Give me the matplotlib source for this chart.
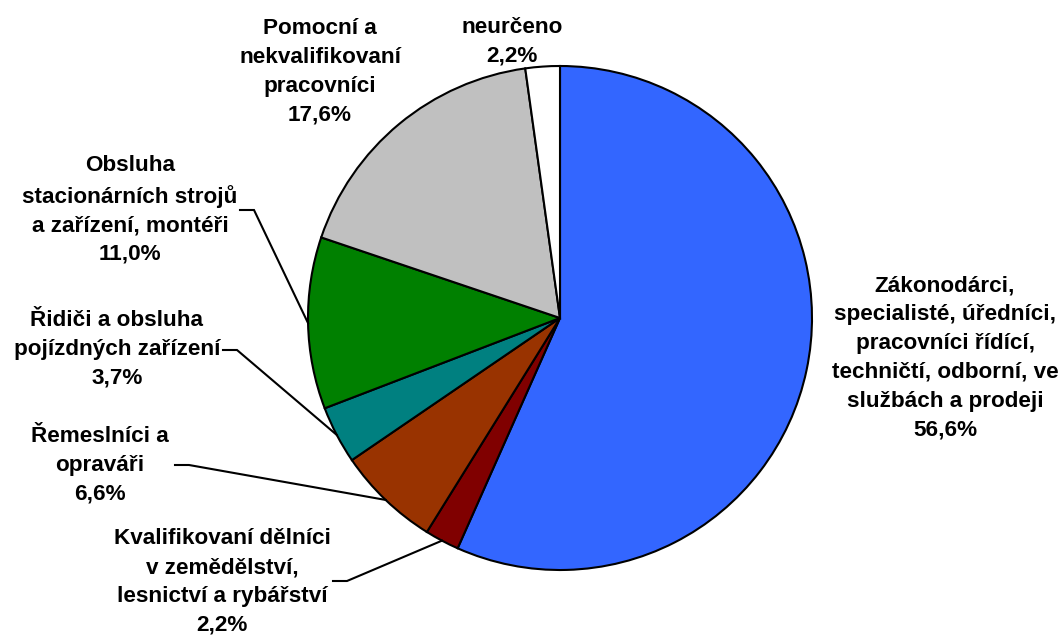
import numpy as np
import matplotlib
matplotlib.use("Agg")
import matplotlib.pyplot as plt

labels = [
    "Zákonodárci,\nspecialisté, úředníci,\npracovníci řídící,\ntechničtí, odborní, ve\nslužbách a prodeji",
    "Kvalifikovaní dělníci\nv zemědělství,\nlesnictví a rybářství",
    "Řemeslníci a\nopraváři",
    "Řidiči a obsluha\npojízdných zařízení",
    "Obsluha\nstacionárních strojů\na zařízení, montéři",
    "Pomocní a\nnekvalifikovaní\npracovníci",
    "neurčeno",
]
shares = [56.6, 2.2, 6.6, 3.7, 11.0, 17.6, 2.2]
colors = ["#3366FF", "#800000", "#993300", "#008080", "#008000", "#C0C0C0", "#FFFFFF"]

# label block centres (pixels, y from top) and leader start points
label_pos = [(945, 358), (222, 582), (100, 465), (117, 349), (130, 210), (320, 72), (512, 42)]
leader_start = [None, (333, 581), (175, 465), (223, 350), (240, 210), None, None]

W, H = 1064, 635
plt.rcParams['font.family'] = ['Liberation Sans', 'DejaVu Sans']

fig = plt.figure(figsize=(W / 100, H / 100), dpi=100)
ax = fig.add_axes([0, 0, 1, 1])

cx, cy, r = 560, H - 318, 252
wedges, _ = ax.pie(shares, colors=colors, startangle=90, counterclock=False,
                   center=(cx, cy), radius=r, frame=True,
                   wedgeprops=dict(edgecolor='black', linewidth=1.5))
ax.set_xlim(0, W)
ax.set_ylim(0, H)
ax.set_aspect('equal')
ax.axis('off')

for w, lab, val, pos, start in zip(wedges, labels, shares, label_pos, leader_start):
    txt = lab + "\n" + ("%.1f%%" % val).replace(".", ",")
    ax.text(pos[0], H - pos[1], txt, ha='center', va='center', fontsize=16.2,
            fontweight='bold', linespacing=1.48)
    if start is not None:
        mid = np.deg2rad((w.theta1 + w.theta2) / 2)
        ex, ey = cx + r * np.cos(mid), cy + r * np.sin(mid)
        sx, sy = start[0], H - start[1]
        ax.plot([sx, sx + 14, ex], [sy, sy, ey], color='black', lw=1.5,
                solid_joinstyle='miter')

fig.savefig("out.png", dpi=100)
